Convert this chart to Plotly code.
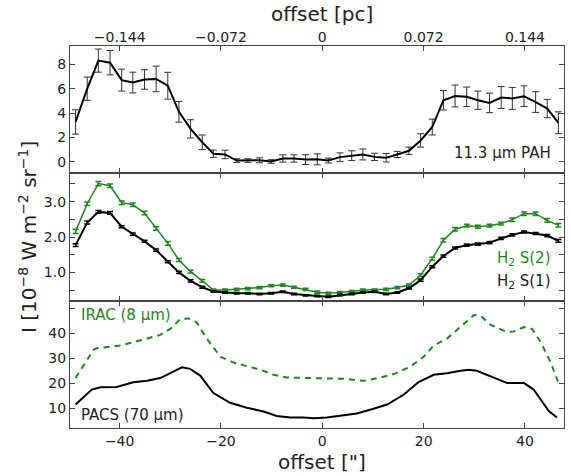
import plotly.graph_objects as go
from plotly.subplots import make_subplots

# ---- data ----
offset = [-48.7, -46.4, -44.2, -41.9, -39.6, -37.4, -35.1, -32.8, -30.5, -28.3,
          -26.0, -23.7, -21.5, -19.2, -16.9, -14.7, -12.4, -10.1, -7.8, -5.6,
          -3.3, -1.0, 1.2, 3.5, 5.8, 8.0, 10.3, 12.6, 14.8, 17.1,
          19.4, 21.7, 23.9, 26.2, 28.5, 30.7, 33.0, 35.3, 37.5, 39.8,
          42.1, 44.4, 46.6]

pah = [3.27, 6.0, 8.3, 8.13, 6.7, 6.5, 6.75, 6.8, 6.24, 4.1,
       2.7, 1.6, 0.66, 0.6, 0.1, 0.1, 0.12, 0.02, 0.27, 0.27,
       0.18, 0.2, 0.1, 0.38, 0.5, 0.6, 0.4, 0.33, 0.6, 0.9,
       1.75, 2.85, 5.05, 5.4, 5.33, 5.05, 4.83, 5.27, 5.2, 5.38,
       4.9, 4.37, 3.2]
pah_err = [1.0, 0.95, 0.95, 1.0, 0.9, 0.85, 0.8, 1.05, 1.1, 0.85,
           0.75, 0.6, 0.3, 0.35, 0.15, 0.15, 0.2, 0.15, 0.3, 0.3,
           0.4, 0.45, 0.2, 0.35, 0.4, 0.45, 0.3, 0.35, 0.25, 0.3,
           0.55, 0.65, 0.8, 0.9, 0.8, 0.75, 0.8, 0.9, 0.9, 0.85,
           0.85, 0.75, 0.9]

h2s2 = [2.16, 2.94, 3.51, 3.45, 2.97, 2.91, 2.68, 2.24, 1.82, 1.35,
        1.02, 0.76, 0.5, 0.5, 0.52, 0.54, 0.57, 0.62, 0.64, 0.58,
        0.52, 0.44, 0.41, 0.43, 0.46, 0.5, 0.5, 0.52, 0.57, 0.64,
        0.92, 1.39, 1.91, 2.22, 2.32, 2.29, 2.32, 2.38, 2.49, 2.66,
        2.66, 2.47, 2.33]
h2s2_err = [0.06, 0.05, 0.06, 0.05, 0.05, 0.05, 0.05, 0.05, 0.05, 0.04,
            0.04, 0.04, 0.03, 0.03, 0.03, 0.03, 0.03, 0.03, 0.03, 0.03,
            0.03, 0.03, 0.03, 0.03, 0.03, 0.03, 0.03, 0.03, 0.03, 0.03,
            0.04, 0.04, 0.05, 0.05, 0.04, 0.04, 0.04, 0.04, 0.05, 0.05,
            0.05, 0.05, 0.05]

h2s1 = [1.77, 2.41, 2.71, 2.68, 2.29, 2.08, 1.88, 1.63, 1.3, 1.0,
        0.76, 0.58, 0.46, 0.43, 0.41, 0.41, 0.39, 0.41, 0.45, 0.39,
        0.35, 0.33, 0.31, 0.36, 0.39, 0.43, 0.45, 0.39, 0.43, 0.55,
        0.78, 1.16, 1.46, 1.69, 1.77, 1.8, 1.84, 1.96, 2.06, 2.14,
        2.1, 2.04, 1.89]
h2s1_err = [0.04, 0.04, 0.04, 0.04, 0.03, 0.03, 0.03, 0.03, 0.03, 0.03,
            0.03, 0.03, 0.02, 0.02, 0.02, 0.02, 0.02, 0.02, 0.02, 0.02,
            0.02, 0.02, 0.02, 0.02, 0.02, 0.02, 0.02, 0.02, 0.02, 0.02,
            0.03, 0.03, 0.03, 0.03, 0.03, 0.03, 0.03, 0.03, 0.03, 0.03,
            0.03, 0.03, 0.04]

irac_x = [-48.7, -45.2, -44.5, -40.2, -35.3, -32.0, -30.0, -28.0, -26.4, -24.8,
          -22.8, -20.1, -17.5, -12.2, -9.6, -7.0, -2.4, 0.9, 4.2, 8.2,
          11.5, 14.1, 17.4, 20.0, 22.0, 24.6, 27.3, 29.9, 31.2, 33.2,
          36.5, 37.8, 39.8, 41.4, 43.1, 45.0, 46.5]
irac = [22.0, 33.2, 34.0, 34.9, 37.4, 39.3, 41.7, 45.7, 45.9, 44.3,
        37.8, 30.5, 28.2, 25.3, 23.3, 22.2, 22.0, 21.7, 21.7, 20.9,
        22.2, 23.6, 26.6, 30.5, 35.1, 37.8, 42.4, 47.2, 47.0, 43.3,
        40.4, 40.7, 42.4, 41.7, 36.4, 28.6, 20.7]

pacs_x = [-48.7, -45.5, -43.8, -40.6, -37.3, -34.6, -32.0, -30.7, -27.7, -26.1,
          -24.1, -21.5, -18.2, -14.9, -11.6, -9.0, -6.3, -3.7, -1.7, 0.9,
          4.2, 6.8, 10.1, 12.8, 16.1, 19.0, 22.0, 24.6, 27.3, 28.9,
          30.5, 33.2, 36.5, 39.8, 41.7, 44.7, 46.3]
pacs = [11.4, 17.4, 18.3, 18.4, 20.3, 20.9, 22.0, 23.3, 26.3, 25.7,
        23.0, 16.0, 12.1, 10.1, 8.6, 6.8, 6.2, 6.2, 5.9, 6.2,
        7.1, 7.8, 9.7, 11.4, 15.4, 20.4, 23.3, 23.9, 24.9, 25.3,
        24.9, 22.6, 20.0, 20.0, 17.4, 8.8, 6.2]

arcsec_ticks = [-40, -20, 0, 20, 40]
pc_ticktext = ["\u22120.144", "\u22120.072", "0", "0.072", "0.144"]

GREEN = "#1a8a1a"
FONT = "DejaVu Sans"
AX = "#444444"

fig = make_subplots(rows=3, cols=1, shared_xaxes=True, vertical_spacing=0)

# top panel
fig.add_trace(go.Scatter(x=offset, y=pah, mode="lines",
                         line=dict(color="black", width=2),
                         error_y=dict(type="data", array=pah_err, color="#333333",
                                      thickness=1, width=3.5),
                         showlegend=False), row=1, col=1)
# middle panel
fig.add_trace(go.Scatter(x=offset, y=h2s2, mode="lines",
                         line=dict(color=GREEN, width=1.5),
                         error_y=dict(type="data", array=h2s2_err, color=GREEN,
                                      thickness=1.5, width=3),
                         showlegend=False), row=2, col=1)
fig.add_trace(go.Scatter(x=offset, y=h2s1, mode="lines",
                         line=dict(color="black", width=2),
                         error_y=dict(type="data", array=h2s1_err, color="black",
                                      thickness=1.5, width=3),
                         showlegend=False), row=2, col=1)
# bottom panel
fig.add_trace(go.Scatter(x=irac_x, y=irac, mode="lines",
                         line=dict(color=GREEN, width=2, dash="6px,5px"),
                         showlegend=False), row=3, col=1)
fig.add_trace(go.Scatter(x=pacs_x, y=pacs, mode="lines",
                         line=dict(color="black", width=2),
                         showlegend=False), row=3, col=1)

axis_common = dict(showline=True, linecolor=AX, linewidth=1.2, mirror="allticks",
                   ticks="inside", ticklen=5, tickwidth=1, tickcolor=AX,
                   showgrid=False, zeroline=False, automargin=False,
                   tickfont=dict(family=FONT, size=14, color="#222222"))

xr = [-49.8, 47.7]
fig.update_xaxes(range=xr, tickvals=arcsec_ticks, **axis_common)
fig.update_xaxes(row=1, col=1, side="top", showticklabels=True,
                 ticktext=pc_ticktext, tickvals=arcsec_ticks,
                 ticklabelstandoff=-3)
fig.update_xaxes(row=2, col=1, showticklabels=False)
fig.update_xaxes(row=3, col=1, ticklabelstandoff=0)

fig.update_yaxes(**axis_common)
fig.update_yaxes(row=1, col=1, range=[-0.95, 9.5], tickvals=[0, 2, 4, 6, 8])
fig.update_yaxes(row=2, col=1, range=[0.2, 3.8],
                 tickvals=[0.5, 1.0, 1.5, 2.0, 2.5, 3.0, 3.5],
                 ticktext=["", "1.0", "", "2.0", "", "3.0", ""])
fig.update_yaxes(row=3, col=1, range=[2, 53],
                 tickvals=[10, 20, 30, 40, 50],
                 ticktext=["10", "20", "30", "40", ""])

ann_font = dict(family=FONT, size=15)
annotations = [
    dict(text="11.3 \u00b5m PAH", x=0.978, y=0.72, xref="paper", yref="paper",
         xanchor="right", yanchor="middle", showarrow=False,
         font=dict(ann_font, color="#222222")),
    dict(text="H<sub>2</sub> S(2)", x=0.978, y=0.445, xref="paper", yref="paper",
         xanchor="right", yanchor="middle", showarrow=False,
         font=dict(ann_font, color=GREEN)),
    dict(text="H<sub>2</sub> S(1)", x=0.978, y=0.383, xref="paper", yref="paper",
         xanchor="right", yanchor="middle", showarrow=False,
         font=dict(ann_font, color="#222222")),
    dict(text="IRAC (8 \u00b5m)", x=0.018, y=0.296, xref="paper", yref="paper",
         xanchor="left", yanchor="middle", showarrow=False,
         font=dict(ann_font, color=GREEN)),
    dict(text="PACS (70 \u00b5m)", x=0.018, y=0.035, xref="paper", yref="paper",
         xanchor="left", yanchor="middle", showarrow=False,
         font=dict(ann_font, color="#222222")),
    dict(text="offset [pc]", x=0.51, y=1.085, xref="paper", yref="paper",
         xanchor="center", yanchor="middle", showarrow=False,
         font=dict(family=FONT, size=20, color="#222222")),
    dict(text="offset [\"]", x=0.51, y=-0.088, xref="paper", yref="paper",
         xanchor="center", yanchor="middle", showarrow=False,
         font=dict(family=FONT, size=20, color="#222222")),
    dict(text="I [10<sup>\u22128</sup> W m<sup>\u22122</sup> sr<sup>\u22121</sup>]",
         x=-0.085, y=0.5, xref="paper", yref="paper", textangle=-90,
         xanchor="center", yanchor="middle", showarrow=False,
         font=dict(family=FONT, size=20, color="#222222")),
]

fig.update_layout(width=571, height=476,
                  margin=dict(l=70, r=7, t=46, b=48),
                  paper_bgcolor="white", plot_bgcolor="white",
                  font=dict(family=FONT, color="#222222"),
                  annotations=annotations)

fig.write_html("out.html", config={"displayModeBar": False},
               post_script="document.body.style.margin='0';document.body.style.overflow='hidden';")
